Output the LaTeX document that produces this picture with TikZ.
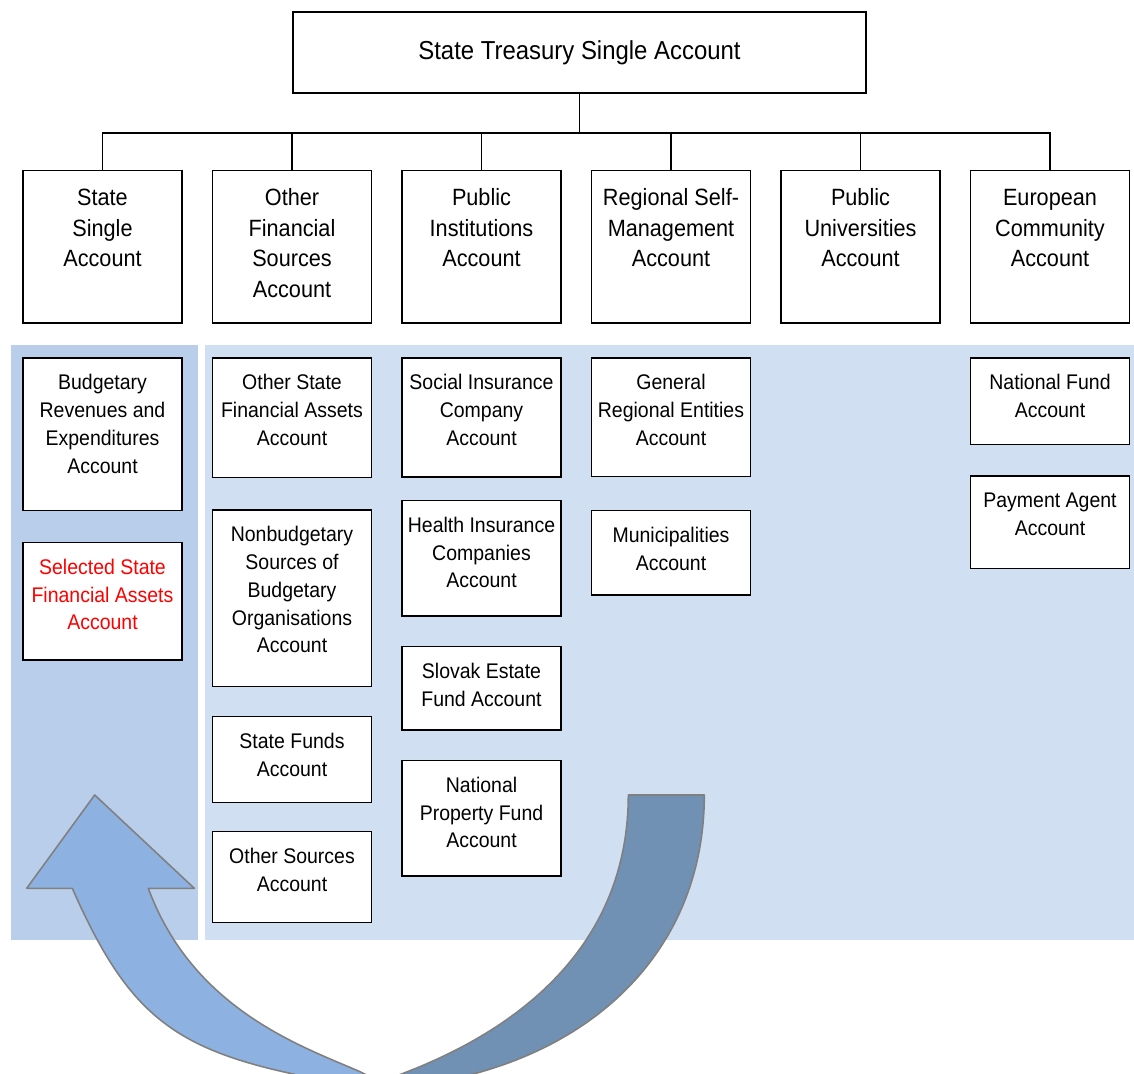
\documentclass[tikz,border=0pt]{standalone}
\usepackage{fontspec}
\setmainfont{Liberation Sans}[FakeStretch=0.92]
\usepackage{tikz}
\usetikzlibrary{positioning}

\definecolor{panelleft}{RGB}{185,206,234}
\definecolor{panelright}{RGB}{208,223,241}
\definecolor{arrowlight}{RGB}{141,178,225}
\definecolor{arrowdark}{RGB}{112,144,180}
\definecolor{arrowedge}{RGB}{128,128,128}

\begin{document}
\begin{tikzpicture}[head/.style={draw, line width=1.1pt, minimum width=11.46cm, minimum height=1.62cm,
    font=\fontsize{14.8}{18}\selectfont},
  acct/.style={draw, line width=1.1pt, fill=white, inner sep=0pt, outer sep=0pt,
    execute at begin node={\begin{minipage}[t][#1][t]{3.18cm}\centering\rule{0pt}{1.5em}},
    execute at end node={\end{minipage}}},
  main/.style={acct=3.05cm, font=\fontsize{13.4}{17.35}\selectfont},
  sub/.style={acct=#1, font=\fontsize{12.05}{15.8}\selectfont},
  link/.style={line width=1.1pt}, arrowline/.style={draw=arrowedge, line width=0.9pt, line join=round}]

  \useasboundingbox (0,0) rectangle (22.68,-21.48);

  % shaded backgrounds of the two groups
  \fill[panelleft] (0.22,-6.90) rectangle (3.96,-18.80);
  \fill[panelright] (4.10,-6.90) rectangle (22.68,-18.80);

  % curved arrow from the right group back to the state account
  \begin{scope}
    \clip (0,0) rectangle (22.68,-21.48);
    \draw[arrowline, fill=arrowlight] (1.894,-15.90) -- (3.886,-17.766) -- (2.966,-17.766)
      .. controls (3.866,-20.204) and (6.06,-20.934) .. (7.20,-21.434)
      -- (7.62,-21.64) -- (7.62,-22.00) -- (5.866,-21.48)
      .. controls (3.408,-20.954) and (2.524,-20.212) .. (1.446,-17.766)
      -- (0.534,-17.766) -- cycle;
    \draw[arrowline, fill=arrowdark] (12.566,-15.90) -- (14.086,-15.90)
      .. controls (14.086,-18.70) and (12.266,-20.732) .. (9.466,-21.48)
      -- (7.62,-22.00) -- (7.62,-21.64) -- (8.066,-21.466)
      .. controls (10.93,-20.37) and (12.566,-18.50) .. (12.566,-15.90) -- cycle;
  \end{scope}

  \node[head] (tsa) at (11.59,-1.05) {State Treasury Single Account};

  \node[main, anchor=north west] (ss) at (0.46,-3.41) {State\\Single\\Account};
  \node[main, right=0.61cm of ss] (ofs) {Other\\Financial\\Sources\\Account};
  \node[main, right=0.61cm of ofs] (pi) {Public\\Institutions\\Account};
  \node[main, right=0.61cm of pi] (rsm) {Regional Self-\\Management\\Account};
  \node[main, right=0.61cm of rsm] (pu) {Public\\Universities\\Account};
  \node[main, right=0.61cm of pu] (ec) {European\\Community\\Account};

  \coordinate[below=0.775cm of tsa] (bus);
  \draw[link] (tsa) -- (bus);
  \foreach \acc in {ss, ofs, pi, rsm, pu, ec}
    \draw[link] (bus) -| (\acc);

  % state single account
  \node[sub=3.05cm, below=0.7cm of ss] (bre) {Budgetary\\Revenues and\\Expenditures\\Account};
  \node[sub=2.35cm, below=0.64cm of bre, text=red] (ssfa) {Selected State\\Financial Assets\\Account};

  % other financial sources
  \node[sub=2.39cm, below=0.7cm of ofs] (osfa) {Other State\\Financial Assets\\Account};
  \node[sub=3.53cm, below=0.65cm of osfa] (nsbo) {Nonbudgetary\\Sources of\\Budgetary\\Organisations\\Account};
  \node[sub=1.72cm, below=0.6cm of nsbo] (sf) {State Funds\\Account};
  \node[sub=1.82cm, below=0.58cm of sf] (os) {Other Sources\\Account};

  % public institutions
  \node[sub=2.38cm, below=0.7cm of pi] (sic) {Social Insurance\\Company\\Account};
  \node[sub=2.31cm, below=0.47cm of sic] (hic) {Health Insurance\\Companies\\Account};
  \node[sub=1.67cm, below=0.61cm of hic] (sef) {Slovak Estate\\Fund Account};
  \node[sub=2.31cm, below=0.61cm of sef] (npf) {National\\Property Fund\\Account};

  % regional self-management
  \node[sub=2.37cm, below=0.7cm of rsm] (gre) {General\\Regional Entities\\Account};
  \node[sub=1.69cm, below=0.68cm of gre] (mun) {Municipalities\\Account};

  % european community
  \node[sub=1.73cm, below=0.7cm of ec] (nf) {National Fund\\Account};
  \node[sub=1.85cm, below=0.63cm of nf] (pa) {Payment Agent\\Account};

\end{tikzpicture}
\end{document}
